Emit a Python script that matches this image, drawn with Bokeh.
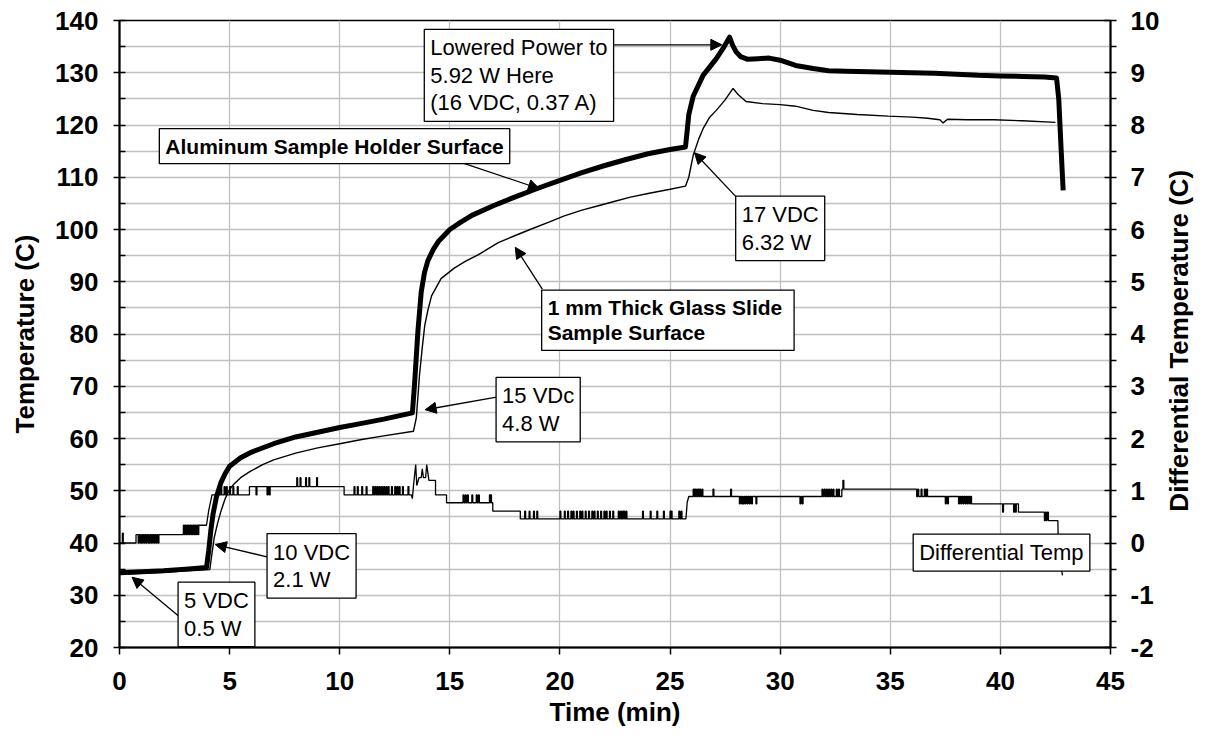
import math
from bokeh.plotting import figure
from bokeh.models import Range1d, LinearAxis, FixedTicker, Label, Arrow, NormalHead
from bokeh.embed import file_html
from bokeh.resources import INLINE

# ---------------- data ----------------
# Aluminum sample holder surface (thick line)
al_time = [0, 1, 2, 3, 3.95, 4.05, 4.15, 4.25, 4.4, 4.6, 4.8, 5.0, 5.5, 6.0, 7.0, 8.0, 9.0,
           10.0, 11.0, 12.0, 13.3, 13.4, 13.55, 13.7, 13.85, 14.0, 14.25, 14.5, 15.0, 15.5,
           16.0, 17.0, 18.0, 19.0, 20.0, 21.0, 22.0, 23.0, 24.0, 25.0, 25.7, 25.78, 25.85,
           26.05, 26.5, 27.1, 27.4, 27.7, 27.85, 28.0, 28.2, 28.5, 29.0, 29.5, 30.0, 30.7,
           31.5, 32.2, 33.0, 34.0, 35.0, 36.0, 37.0, 38.0, 39.0, 40.0, 41.0, 42.0, 42.55,
           42.65, 42.75, 42.85]
al_temp = [34.3, 34.5, 34.7, 35.0, 35.3, 38.5, 42.5, 45.6, 48.8, 51.5, 53.3, 54.7, 56.3, 57.4,
           59.0, 60.3, 61.2, 62.1, 62.9, 63.7, 64.9, 70.5, 80.5, 88.0, 91.8, 94.0, 96.2, 97.8,
           100.0, 101.4, 102.7, 104.6, 106.3, 107.9, 109.4, 110.9, 112.2, 113.4, 114.5, 115.3,
           115.8, 119.0, 122.0, 125.5, 129.5, 132.7, 134.6, 136.8, 135.2, 134.0, 133.1, 132.6,
           132.7, 132.8, 132.4, 131.4, 130.8, 130.4, 130.3, 130.2, 130.1, 130.0, 129.9, 129.7,
           129.5, 129.4, 129.3, 129.2, 129.0, 125.0, 116.0, 107.5]

# 1 mm thick glass slide sample surface (thin line)
gl_time = [0, 2, 4.1, 4.2, 4.3, 4.45, 4.6, 4.8, 5.0, 5.2, 5.5, 5.9, 6.5, 7.0, 8.0, 9.0, 10.0,
           11.0, 12.0, 13.35, 13.48, 13.62, 13.75, 13.86, 14.0, 14.17, 14.6, 15.2, 15.7, 16.3,
           17.2, 18.0, 18.7, 19.5, 20.2, 21.0, 21.7, 22.5, 23.2, 24.0, 25.0, 25.7, 25.85, 26.05,
           26.3, 26.5, 26.8, 27.1, 27.5, 27.86, 28.1, 28.45, 29.2, 30.0, 30.7, 31.5, 32.2, 33.5,
           34.9, 36.0, 36.7, 37.25, 37.4, 37.6, 38.5, 39.7, 41.0, 42.5]
gl_temp = [34.0, 34.4, 34.9, 38.0, 41.0, 43.7, 46.0, 48.5, 50.3, 51.3, 52.5, 53.6, 55.0, 55.9,
           57.2, 58.2, 59.0, 59.8, 60.5, 61.4, 64.0, 72.0, 77.5, 81.6, 84.5, 87.3, 90.6, 92.6,
           93.9, 95.2, 97.5, 98.9, 100.1, 101.4, 102.6, 103.7, 104.5, 105.4, 106.2, 106.9,
           107.7, 108.3, 110.0, 114.2, 117.3, 119.3, 121.5, 122.8, 124.8, 127.0, 125.8, 124.5,
           124.1, 123.9, 123.6, 122.8, 122.4, 122.0, 121.7, 121.5, 121.3, 121.0, 120.4, 121.1,
           121.0, 121.0, 120.8, 120.5]

# Differential temperature: base levels (polyline) + short flicker spikes
diff_base_t = [0.0, 0.75, 0.75, 3.6, 3.6, 3.95, 4.05, 4.2, 5.9, 5.9, 10.2, 10.2, 13.25, 13.3,
               13.35, 13.45, 13.5, 13.6, 13.7, 13.75, 13.8, 13.9, 13.95, 14.05, 14.35, 14.35,
               14.85, 14.85, 16.95, 16.95, 18.2, 18.2, 25.72, 25.78, 25.85, 32.8, 32.8, 36.2,
               36.2, 38.69, 38.69, 40.82, 40.82, 42.18, 42.18, 42.61, 42.63, 42.75, 42.82]
diff_base_v = [0.0, 0.0, 0.16, 0.16, 0.34, 0.34, 0.62, 0.92, 0.92, 1.08, 1.08, 0.92, 0.92, 0.85,
               1.1, 1.5, 1.1, 1.25, 1.25, 1.42, 1.25, 1.25, 1.5, 1.2, 1.2, 0.92,
               0.92, 0.77, 0.77, 0.61, 0.61, 0.46, 0.46, 0.78, 0.89, 0.89, 1.03, 1.03,
               0.89, 0.89, 0.75, 0.75, 0.59, 0.59, 0.43, 0.43, 0.0, -0.45, -0.62]
diff_spike_t = [0.13, 0.85, 0.95, 1.0, 1.1, 1.2, 1.3, 1.35, 1.45, 1.55, 1.65, 1.75,
                2.9, 2.97, 3.05, 3.12, 3.2, 3.27, 3.35, 3.42, 3.5, 3.55,
                4.6, 4.75, 4.85, 5.0, 5.15, 5.35,
                6.2, 6.7, 6.8, 8.05, 8.2, 8.45, 8.6, 8.95,
                10.65, 10.8, 11.0, 11.2, 11.5, 11.6, 11.7, 11.8, 11.9, 12.0, 12.1, 12.2, 12.35,
                12.5, 12.6, 12.7, 12.85, 13.1,
                15.6, 15.7, 15.8, 16.0, 16.2, 16.3, 16.8, 16.85,
                18.4, 18.6, 18.8, 18.95, 20.0, 20.2, 20.35, 20.5, 20.6, 20.75, 20.9, 21.0,
                21.15, 21.3, 21.45, 21.55, 21.7, 21.85, 22.0, 22.1, 22.25, 22.4, 22.65, 22.75,
                22.85, 22.9, 23.0, 23.75, 24.1, 24.4, 24.7, 25.0, 25.05, 25.4, 25.5,
                26.05, 26.12, 26.2, 26.28, 26.35, 26.45, 26.95, 27.75,
                28.15, 28.25, 28.32, 28.4, 28.5, 28.6, 28.7, 28.9, 30.9, 31.0,
                31.9, 32.0, 32.1, 32.2, 32.3, 32.4, 32.55, 32.65, 32.85,
                36.25, 36.4, 36.55, 36.65, 37.5, 37.6, 38.1, 38.2, 38.3, 38.4, 38.5, 38.6,
                40.1, 40.6, 40.68, 42.0, 42.08]
diff_spike_v = [0.19, 0.0, 0.0, 0.0, 0.0, 0.0, 0.0, 0.0, 0.0, 0.0, 0.0, 0.0,
                0.34, 0.34, 0.34, 0.34, 0.34, 0.34, 0.34, 0.34, 0.34, 0.34,
                1.08, 1.08, 1.08, 1.08, 1.08, 1.08,
                0.92, 0.92, 0.92, 1.25, 1.25, 1.25, 1.25, 1.25,
                1.08, 1.08, 1.08, 1.08, 1.08, 1.08, 1.08, 1.08, 1.08, 1.08, 1.08, 1.08, 1.08,
                1.08, 1.08, 1.08, 1.08, 1.08,
                0.92, 0.92, 0.92, 0.92, 0.92, 0.92, 0.92, 0.92,
                0.61, 0.61, 0.61, 0.61, 0.61, 0.61, 0.61, 0.61, 0.61, 0.61, 0.61, 0.61,
                0.61, 0.61, 0.61, 0.61, 0.61, 0.61, 0.61, 0.61, 0.61, 0.61, 0.61, 0.61,
                0.61, 0.61, 0.61, 0.61, 0.61, 0.61, 0.61, 0.61, 0.61, 0.61, 0.61,
                1.03, 1.03, 1.03, 1.03, 1.03, 1.03, 1.03, 1.03,
                0.75, 0.75, 0.75, 0.75, 0.75, 0.75, 0.75, 0.75, 0.75, 0.75,
                1.03, 1.03, 1.03, 1.03, 1.03, 1.03, 1.03, 1.03, 1.2,
                1.03, 1.03, 1.03, 1.03, 0.75, 0.75, 0.75, 0.75, 0.75, 0.75, 0.75, 0.75,
                0.59, 0.59, 0.59, 0.43, 0.43]

x_ticks = [0, 5, 10, 15, 20, 25, 30, 35, 40, 45]
left_ticks = [20, 30, 40, 50, 60, 70, 80, 90, 100, 110, 120, 130, 140]
right_ticks = [-2, -1, 0, 1, 2, 3, 4, 5, 6, 7, 8, 9, 10]
right_title = "Differential Temperature (C)"

# annotations: (text, box corner x, box corner y, align, bold)
notes = [
    ("Lowered Power to\n5.92 W Here\n(16 VDC, 0.37 A)", 13.84, 138.3, "left", False),
    ("Aluminum Sample Holder Surface", 17.72, 119.3, "right", True),
    ("17 VDC\n6.32 W", 27.98, 106.4, "left", False),
    ("1 mm Thick Glass  Slide\nSample Surface", 19.17, 88.4, "left", True),
    ("15 VDc\n4.8 W", 17.1, 71.7, "left", False),
    ("10 VDC\n2.1 W", 6.7, 41.8, "left", False),
    ("5 VDC\n0.5 W", 2.66, 32.5, "left", False),
    ("Differential Temp", 36.04, 41.7, "left", False),
]
# arrows: (x_start, y_start, x_end, y_end)
arrows = [
    (22.34, 135.35, 27.35, 135.35),
    (15.47, 112.9, 19.07, 107.8),
    (27.99, 106.3, 26.11, 114.7),
    (19.2, 88.6, 17.97, 96.6),
    (17.12, 67.9, 13.88, 65.5),
    (6.74, 37.3, 4.35, 39.7),
    (2.75, 25.8, 0.57, 33.45),
]

# ------------- build diff polyline -------------
spikes = sorted(zip(diff_spike_t, diff_spike_v))
w = 0.04
dt, dv = [], []
for i in range(len(diff_base_t) - 1):
    t0, v0 = diff_base_t[i], diff_base_v[i]
    t1, v1 = diff_base_t[i + 1], diff_base_v[i + 1]
    dt.append(t0); dv.append(v0)
    if v0 == v1:
        for ts, sv in spikes:
            if t0 < ts < t1:
                dt += [ts, ts, ts + w, ts + w]
                dv += [v0, sv, sv, v0]
dt.append(diff_base_t[-1]); dv.append(diff_base_v[-1])

# ---------------- figure ----------------
FONT = "Liberation Sans"
W, H = 1212, 739
p = figure(width=W, height=H, x_range=Range1d(0, 45), y_range=Range1d(20, 140),
           output_backend="svg", toolbar_location=None,
           min_border_left=119, min_border_right=W - 1116, min_border_top=20,
           min_border_bottom=H - 647)
p.extra_y_ranges = {"diff": Range1d(-2, 10)}
p.background_fill_color = "white"
p.border_fill_color = "white"
p.outline_line_color = "black"
p.outline_line_width = 1.5

p.xgrid.ticker = FixedTicker(ticks=x_ticks)
p.ygrid.ticker = FixedTicker(ticks=list(range(20, 141, 5)))
for g in (p.xgrid, p.ygrid):
    g.grid_line_color = "#c0c0c0"
    g.grid_line_width = 1.3


def style_axis(ax):
    ax.axis_line_color = "black"
    ax.axis_line_width = 2
    ax.major_tick_line_color = "black"
    ax.minor_tick_line_color = "black"
    ax.major_tick_line_width = 1.5
    ax.minor_tick_line_width = 1.5
    ax.major_label_text_font = FONT
    ax.major_label_text_font_style = "bold"
    ax.major_label_text_font_size = "26px"
    ax.major_label_text_color = "black"
    ax.axis_label_text_font = FONT
    ax.axis_label_text_font_style = "bold"
    ax.axis_label_text_font_size = "26px"
    ax.axis_label_text_color = "black"


xa = p.xaxis[0]
style_axis(xa)
xa.ticker = FixedTicker(ticks=x_ticks, minor_ticks=[])
xa.axis_label = "Time (min)"
xa.major_tick_in = 0
xa.major_tick_out = 7
xa.major_label_standoff = 17
xa.axis_label_standoff = 4

ya = p.yaxis[0]
style_axis(ya)
ya.ticker = FixedTicker(ticks=left_ticks, minor_ticks=list(range(25, 140, 10)))
ya.axis_label = "Temperature (C)"
ya.major_tick_in = 6
ya.major_tick_out = 6
ya.minor_tick_in = 6
ya.minor_tick_out = 0
ya.major_label_standoff = 15
ya.axis_label_standoff = 12

ra = LinearAxis(y_range_name="diff",
                ticker=FixedTicker(ticks=right_ticks,
                                   minor_ticks=[x + 0.5 for x in right_ticks[:-1]]),
                major_label_overrides={-1: "-1", -2: "-2"})
style_axis(ra)
ra.major_tick_in = 6
ra.major_tick_out = 6
ra.minor_tick_in = 0
ra.minor_tick_out = 6
ra.major_label_standoff = 14
p.add_layout(ra, "right")

# right-hand title, reading bottom to top (drawn as the single label of a bare axis)
rt = LinearAxis(ticker=FixedTicker(ticks=[46], minor_ticks=[]),
                major_label_overrides={46: right_title})
style_axis(rt)
rt.axis_line_color = None
rt.major_tick_line_color = None
rt.minor_tick_line_color = None
rt.major_tick_in = 0
rt.major_tick_out = 0
rt.major_label_orientation = math.pi / 2
rt.major_label_standoff = 17
p.add_layout(rt, "right")

# ---------------- lines ----------------
p.line(dt, dv, y_range_name="diff", line_color="black", line_width=1.3)
p.line(gl_time, gl_temp, line_color="black", line_width=1.4)
p.line(al_time, al_temp, line_color="black", line_width=5, line_join="round")

# ---------------- annotations ----------------
for xs, ys, xe, ye in arrows:
    p.add_layout(Arrow(end=NormalHead(size=11, fill_color="black", line_color="black",
                                      line_width=1),
                       x_start=xs, y_start=ys, x_end=xe, y_end=ye,
                       line_color="black", line_width=1.3))

for txt, x, y, align, bold in notes:
    p.add_layout(Label(x=x, y=y, text=txt, text_font=FONT,
                       text_font_size="22px" if not bold else "21px",
                       text_font_style="bold" if bold else "normal",
                       text_color="black",
                       text_align=align, text_baseline="top",
                       anchor="top_left" if align == "left" else "top_right",
                       text_line_height=1.1, padding=6,
                       background_fill_color="white",
                       border_line_color="black", border_line_width=1.3))

open("out.html", "w").write(file_html(p, INLINE))
